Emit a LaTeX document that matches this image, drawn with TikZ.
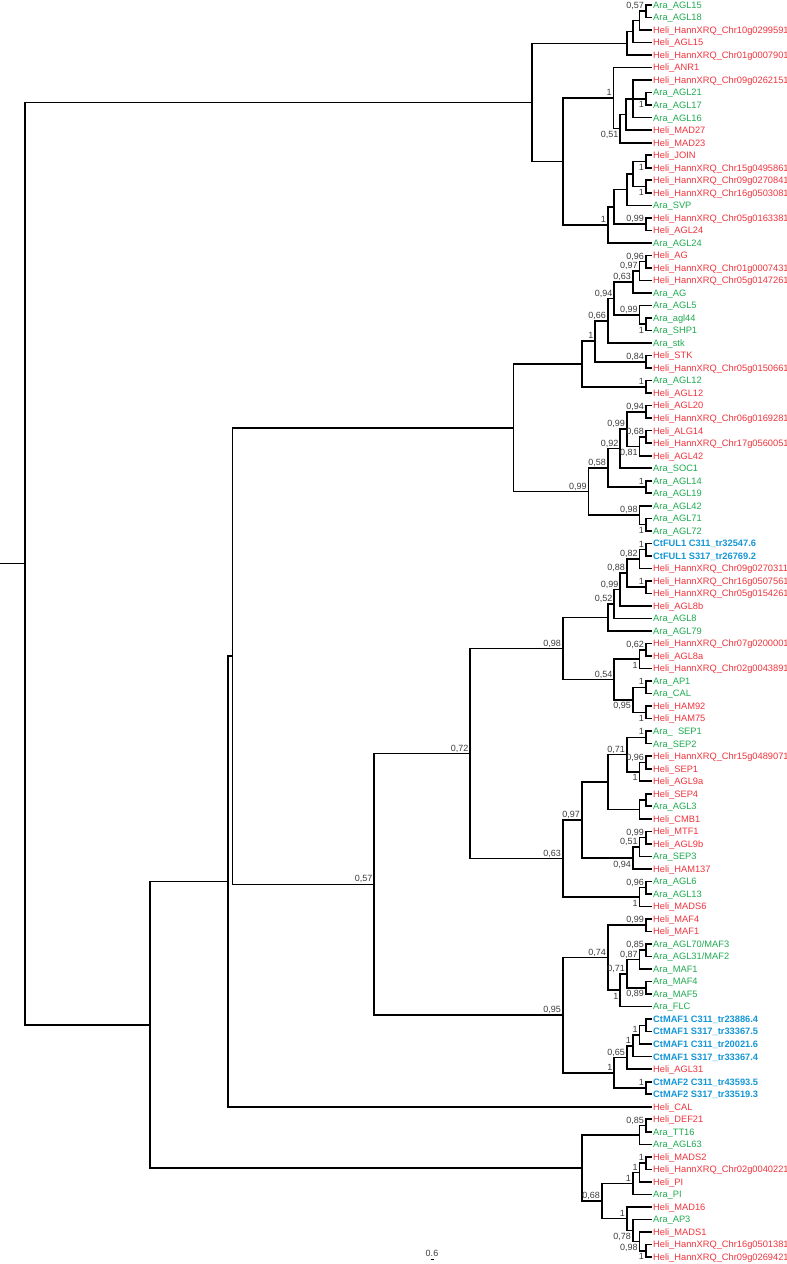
\documentclass[tikz,border=0pt]{standalone}
\usepackage{fontspec}
\setmainfont{Liberation Sans}
\definecolor{aracol}{RGB}{30,170,80}
\definecolor{helicol}{RGB}{240,50,60}
\definecolor{ctcol}{RGB}{20,150,215}
\definecolor{labcol}{RGB}{60,60,60}
\tikzset{
  br/.style={line width=1.6pt, black, line join=miter},
  leaf/.style={anchor=west, inner sep=0pt, font=\fontsize{9.3}{10}\selectfont, text height=6.7pt, text depth=0pt},
  sa/.style={text=aracol},
  sh/.style={text=helicol},
  sc/.style={text=ctcol, font=\fontsize{9.3}{10}\selectfont\bfseries},
  lbl/.style={anchor=east, inner sep=0pt, text=labcol, font=\fontsize{9}{10}\selectfont, text height=6.4pt, text depth=0pt}
}
\newcommand\lf[3]{\coordinate (l#1) at (651.5,#1-1); \node[leaf,#2] (t#1) at (653,#1-1) {#3};}
\newcommand\kids[2]{\foreach \c in {#2} {\draw[br] (#1) |- (\c);}}
\newcommand\nlab[3]{\node[lbl] (lb#1) at ([shift={(-1.5,#2)}]#1) {#3};}
\def\ab{-0.45}
\def\be{0.47}
\begin{document}
\begin{tikzpicture}[x=1pt,y=-12.52pt]
\useasboundingbox (0,-0.3994) rectangle (787,100.56);
% leaves
\lf{1}{sa}{Ara\_AGL15}
\lf{2}{sa}{Ara\_AGL18}
\lf{3}{sh}{Heli\_HannXRQ\_Chr10g0299591}
\lf{4}{sh}{Heli\_AGL15}
\lf{5}{sh}{Heli\_HannXRQ\_Chr01g0007901}
\lf{6}{sh}{Heli\_ANR1}
\lf{7}{sh}{Heli\_HannXRQ\_Chr09g0262151}
\lf{8}{sa}{Ara\_AGL21}
\lf{9}{sa}{Ara\_AGL17}
\lf{10}{sa}{Ara\_AGL16}
\lf{11}{sh}{Heli\_MAD27}
\lf{12}{sh}{Heli\_MAD23}
\lf{13}{sh}{Heli\_JOIN}
\lf{14}{sh}{Heli\_HannXRQ\_Chr15g0495861}
\lf{15}{sh}{Heli\_HannXRQ\_Chr09g0270841}
\lf{16}{sh}{Heli\_HannXRQ\_Chr16g0503081}
\lf{17}{sa}{Ara\_SVP}
\lf{18}{sh}{Heli\_HannXRQ\_Chr05g0163381}
\lf{19}{sh}{Heli\_AGL24}
\lf{20}{sa}{Ara\_AGL24}
\lf{21}{sh}{Heli\_AG}
\lf{22}{sh}{Heli\_HannXRQ\_Chr01g0007431}
\lf{23}{sh}{Heli\_HannXRQ\_Chr05g0147261}
\lf{24}{sa}{Ara\_AG}
\lf{25}{sa}{Ara\_AGL5}
\lf{26}{sa}{Ara\_agl44}
\lf{27}{sa}{Ara\_SHP1}
\lf{28}{sa}{Ara\_stk}
\lf{29}{sh}{Heli\_STK}
\lf{30}{sh}{Heli\_HannXRQ\_Chr05g0150661}
\lf{31}{sa}{Ara\_AGL12}
\lf{32}{sh}{Heli\_AGL12}
\lf{33}{sh}{Heli\_AGL20}
\lf{34}{sh}{Heli\_HannXRQ\_Chr06g0169281}
\lf{35}{sh}{Heli\_ALG14}
\lf{36}{sh}{Heli\_HannXRQ\_Chr17g0560051}
\lf{37}{sh}{Heli\_AGL42}
\lf{38}{sa}{Ara\_SOC1}
\lf{39}{sa}{Ara\_AGL14}
\lf{40}{sa}{Ara\_AGL19}
\lf{41}{sa}{Ara\_AGL42}
\lf{42}{sa}{Ara\_AGL71}
\lf{43}{sa}{Ara\_AGL72}
\lf{44}{sc}{CtFUL1 C311\_tr32547.6}
\lf{45}{sc}{CtFUL1 S317\_tr26769.2}
\lf{46}{sh}{Heli\_HannXRQ\_Chr09g0270311}
\lf{47}{sh}{Heli\_HannXRQ\_Chr16g0507561}
\lf{48}{sh}{Heli\_HannXRQ\_Chr05g0154261}
\lf{49}{sh}{Heli\_AGL8b}
\lf{50}{sa}{Ara\_AGL8}
\lf{51}{sa}{Ara\_AGL79}
\lf{52}{sh}{Heli\_HannXRQ\_Chr07g0200001}
\lf{53}{sh}{Heli\_AGL8a}
\lf{54}{sh}{Heli\_HannXRQ\_Chr02g0043891}
\lf{55}{sa}{Ara\_AP1}
\lf{56}{sa}{Ara\_CAL}
\lf{57}{sh}{Heli\_HAM92}
\lf{58}{sh}{Heli\_HAM75}
\lf{59}{sa}{Ara\_\ \ SEP1}
\lf{60}{sa}{Ara\_SEP2}
\lf{61}{sh}{Heli\_HannXRQ\_Chr15g0489071}
\lf{62}{sh}{Heli\_SEP1}
\lf{63}{sh}{Heli\_AGL9a}
\lf{64}{sh}{Heli\_SEP4}
\lf{65}{sa}{Ara\_AGL3}
\lf{66}{sh}{Heli\_CMB1}
\lf{67}{sh}{Heli\_MTF1}
\lf{68}{sh}{Heli\_AGL9b}
\lf{69}{sa}{Ara\_SEP3}
\lf{70}{sh}{Heli\_HAM137}
\lf{71}{sa}{Ara\_AGL6}
\lf{72}{sa}{Ara\_AGL13}
\lf{73}{sh}{Heli\_MADS6}
\lf{74}{sh}{Heli\_MAF4}
\lf{75}{sh}{Heli\_MAF1}
\lf{76}{sa}{Ara\_AGL70/MAF3}
\lf{77}{sa}{Ara\_AGL31/MAF2}
\lf{78}{sa}{Ara\_MAF1}
\lf{79}{sa}{Ara\_MAF4}
\lf{80}{sa}{Ara\_MAF5}
\lf{81}{sa}{Ara\_FLC}
\lf{82}{sc}{CtMAF1 C311\_tr23886.4}
\lf{83}{sc}{CtMAF1 S317\_tr33367.5}
\lf{84}{sc}{CtMAF1 C311\_tr20021.6}
\lf{85}{sc}{CtMAF1 S317\_tr33367.4}
\lf{86}{sh}{Heli\_AGL31}
\lf{87}{sc}{CtMAF2 C311\_tr43593.5}
\lf{88}{sc}{CtMAF2 S317\_tr33519.3}
\lf{89}{sh}{Heli\_CAL}
\lf{90}{sh}{Heli\_DEF21}
\lf{91}{sa}{Ara\_TT16}
\lf{92}{sa}{Ara\_AGL63}
\lf{93}{sh}{Heli\_MADS2}
\lf{94}{sh}{Heli\_HannXRQ\_Chr02g0040221}
\lf{95}{sh}{Heli\_PI}
\lf{96}{sa}{Ara\_PI}
\lf{97}{sh}{Heli\_MAD16}
\lf{98}{sa}{Ara\_AP3}
\lf{99}{sh}{Heli\_MADS1}
\lf{100}{sh}{Heli\_HannXRQ\_Chr16g0501381}
\lf{101}{sh}{Heli\_HannXRQ\_Chr09g0269421}
% internal nodes
\coordinate (A1) at (645.7,0.5);
\coordinate (A2) at (639.3,1.25);
\coordinate (A3) at (632.7,2.125);
\coordinate (A4) at (626.7,3.0625);
\coordinate (B1) at (645.7,7.5);
\coordinate (B2) at (632.7,7.5);
\coordinate (B3) at (625.7,8.75);
\coordinate (B4) at (620,9.875);
\coordinate (B5) at (613.3,7.4375);
\coordinate (C1) at (645.7,12.5);
\coordinate (C2) at (645.7,14.5);
\coordinate (C3) at (632.7,13.5);
\coordinate (C4) at (626.7,14.75);
\coordinate (C5) at (645.7,17.5);
\coordinate (C6) at (614,16.125);
\coordinate (C7) at (607.7,17.5625);
\coordinate (E) at (562.7,12.5);
\coordinate (F) at (531.7,7.78125);
\coordinate (D1) at (645.7,20.5);
\coordinate (D2) at (639.3,21.25);
\coordinate (D3) at (632.7,22.125);
\coordinate (D4) at (645.7,25.5);
\coordinate (D5) at (639.3,24.75);
\coordinate (D6) at (614,23.4375);
\coordinate (D7) at (607.7,25.21875);
\coordinate (D8) at (645.7,28.5);
\coordinate (D9) at (595,26.859375);
\coordinate (D10) at (645.7,30.5);
\coordinate (D11) at (581.7,28.6797);
\coordinate (G1) at (645.7,32.5);
\coordinate (G2) at (645.7,34.5);
\coordinate (G3) at (639.3,35.25);
\coordinate (G4) at (626.7,33.875);
\coordinate (G5) at (620,35.4375);
\coordinate (G6) at (645.7,38.5);
\coordinate (G7) at (607.7,36.96875);
\coordinate (H1) at (645.7,41.5);
\coordinate (H2) at (639.3,40.75);
\coordinate (G8) at (588.3,38.859375);
\coordinate (I) at (513.3,33.7695);
\coordinate (J1) at (645.7,43.5);
\coordinate (J2) at (639.3,44.25);
\coordinate (J3) at (645.7,46.5);
\coordinate (J4) at (626.7,45.375);
\coordinate (J5) at (620,46.6875);
\coordinate (J6) at (614,47.84375);
\coordinate (J7) at (607.7,48.921875);
\coordinate (K1) at (645.7,51.5);
\coordinate (K2) at (639.3,52.25);
\coordinate (K3) at (645.7,54.5);
\coordinate (K4) at (645.7,56.5);
\coordinate (K5) at (632.7,55.5);
\coordinate (K6) at (614,53.875);
\coordinate (L) at (562.7,51.3984);
\coordinate (M1) at (645.7,58.5);
\coordinate (M2) at (645.7,60.5);
\coordinate (M3) at (639.3,61.25);
\coordinate (M4) at (626.7,59.875);
\coordinate (M5) at (645.7,63.5);
\coordinate (M6) at (639.3,64.25);
\coordinate (M7) at (607.7,62.0625);
\coordinate (M8) at (645.7,66.5);
\coordinate (M9) at (639.3,67.25);
\coordinate (M10) at (632.7,68.125);
\coordinate (M11) at (581.7,65.09375);
\coordinate (N1) at (645.7,70.5);
\coordinate (N2) at (639.3,71.25);
\coordinate (P) at (562.7,68.171875);
\coordinate (Q) at (470,59.785);
\coordinate (R1) at (645.7,73.5);
\coordinate (R2) at (645.7,75.5);
\coordinate (R3) at (639.3,76.25);
\coordinate (R4) at (645.7,78.5);
\coordinate (R5) at (626.7,77.375);
\coordinate (R6) at (620,78.6875);
\coordinate (R7) at (607.7,76.09375);
\coordinate (S1) at (645.7,81.5);
\coordinate (S2) at (639.3,82.25);
\coordinate (S3) at (632.7,83.125);
\coordinate (S4) at (626.7,84.0625);
\coordinate (S5) at (645.7,86.5);
\coordinate (S6) at (614,85.28125);
\coordinate (T) at (562.7,80.6875);
\coordinate (U) at (374,70.236);
\coordinate (Z) at (232.3,52.003);
\coordinate (Y) at (228,70.0015);
\coordinate (V1) at (645.7,89.5);
\coordinate (V2) at (639.3,90.25);
\coordinate (W1) at (645.7,92.5);
\coordinate (W2) at (639.3,93.25);
\coordinate (W3) at (632.7,94.125);
\coordinate (X1) at (645.7,99.5);
\coordinate (X2) at (639.3,98.75);
\coordinate (X3) at (632.7,97.875);
\coordinate (X4) at (626.7,96.9375);
\coordinate (X5) at (601.7,95.53125);
\coordinate (V3) at (581.7,92.890625);
\coordinate (X) at (150,81.446);
\coordinate (root) at (25,44.614);
\coordinate (r0) at (0,44.614);
% branches
\kids{A1}{l1,l2}
\kids{A2}{A1,l3}
\kids{A3}{A2,l4}
\kids{A4}{A3,l5}
\kids{B1}{l8,l9}
\kids{B2}{l7,B1,l10}
\kids{B3}{B2,l11}
\kids{B4}{B3,l12}
\kids{B5}{l6,B4}
\kids{C1}{l13,l14}
\kids{C2}{l15,l16}
\kids{C3}{C1,C2}
\kids{C4}{C3,l17}
\kids{C5}{l18,l19}
\kids{C6}{C4,C5}
\kids{C7}{C6,l20}
\kids{E}{B5,C7}
\kids{F}{A4,E}
\kids{D1}{l21,l22}
\kids{D2}{D1,l23}
\kids{D3}{D2,l24}
\kids{D4}{l26,l27}
\kids{D5}{l25,D4}
\kids{D6}{D3,D5}
\kids{D7}{D6,l28}
\kids{D8}{l29,l30}
\kids{D9}{D7,D8}
\kids{D10}{l31,l32}
\kids{D11}{D9,D10}
\kids{G1}{l33,l34}
\kids{G2}{l35,l36}
\kids{G3}{G2,l37}
\kids{G4}{G1,G3}
\kids{G5}{G4,l38}
\kids{G6}{l39,l40}
\kids{G7}{G5,G6}
\kids{H1}{l42,l43}
\kids{H2}{l41,H1}
\kids{G8}{G7,H2}
\kids{I}{D11,G8}
\kids{J1}{l44,l45}
\kids{J2}{J1,l46}
\kids{J3}{l47,l48}
\kids{J4}{J2,J3}
\kids{J5}{J4,l49}
\kids{J6}{J5,l50}
\kids{J7}{J6,l51}
\kids{K1}{l52,l53}
\kids{K2}{K1,l54}
\kids{K3}{l55,l56}
\kids{K4}{l57,l58}
\kids{K5}{K3,K4}
\kids{K6}{K2,K5}
\kids{L}{J7,K6}
\kids{M1}{l59,l60}
\kids{M2}{l61,l62}
\kids{M3}{M2,l63}
\kids{M4}{M1,M3}
\kids{M5}{l64,l65}
\kids{M6}{M5,l66}
\kids{M7}{M4,M6}
\kids{M8}{l67,l68}
\kids{M9}{M8,l69}
\kids{M10}{M9,l70}
\kids{M11}{M7,M10}
\kids{N1}{l71,l72}
\kids{N2}{N1,l73}
\kids{P}{M11,N2}
\kids{Q}{L,P}
\kids{R1}{l74,l75}
\kids{R2}{l76,l77}
\kids{R3}{R2,l78}
\kids{R4}{l79,l80}
\kids{R5}{R3,R4}
\kids{R6}{R5,l81}
\kids{R7}{R1,R6}
\kids{S1}{l82,l83}
\kids{S2}{S1,l84}
\kids{S3}{S2,l85}
\kids{S4}{S3,l86}
\kids{S5}{l87,l88}
\kids{S6}{S4,S5}
\kids{T}{R7,S6}
\kids{U}{Q,T}
\kids{Z}{I,U}
\kids{Y}{Z,l89}
\kids{V1}{l90,l91}
\kids{V2}{V1,l92}
\kids{W1}{l93,l94}
\kids{W2}{W1,l95}
\kids{W3}{W2,l96}
\kids{X1}{l100,l101}
\kids{X2}{l99,X1}
\kids{X3}{l98,X2}
\kids{X4}{l97,X3}
\kids{X5}{W3,X4}
\kids{V3}{V2,X5}
\kids{X}{Y,V3}
\kids{root}{F,X}
\draw[br] (r0) -- (root);
% support labels
\nlab{A1}{\ab}{0,57}
\nlab{B1}{\be}{1}
\nlab{B4}{\be}{0,51}
\nlab{B5}{\ab}{1}
\nlab{C1}{\be}{1}
\nlab{C2}{\be}{1}
\nlab{C5}{\ab}{0,99}
\nlab{C7}{\ab}{1}
\nlab{D1}{\ab}{0,96}
\nlab{D2}{\ab}{0,97}
\nlab{D3}{\ab}{0,63}
\nlab{D4}{\be}{1}
\nlab{D5}{\ab}{0,99}
\nlab{D6}{\ab}{0,94}
\nlab{D7}{\ab}{0,66}
\nlab{D8}{\ab}{0,84}
\nlab{D9}{\ab}{1}
\nlab{D10}{\ab}{1}
\nlab{G1}{\ab}{0,94}
\nlab{G2}{\ab}{0,68}
\nlab{G3}{\be}{0,81}
\nlab{G4}{\ab}{0,99}
\nlab{G5}{\ab}{0,92}
\nlab{G6}{\ab}{1}
\nlab{G7}{\ab}{0,58}
\nlab{H1}{\be}{1}
\nlab{H2}{\ab}{0,98}
\nlab{G8}{\ab}{0,99}
\nlab{J1}{\ab}{1}
\nlab{J2}{\ab}{0,82}
\nlab{J3}{\ab}{1}
\nlab{J4}{\ab}{0,88}
\nlab{J5}{\ab}{0,99}
\nlab{J6}{\ab}{0,52}
\nlab{K1}{\ab}{0,62}
\nlab{K2}{\be}{1}
\nlab{K3}{\ab}{1}
\nlab{K4}{\be}{1}
\nlab{K5}{\be}{0,95}
\nlab{K6}{\ab}{0,54}
\nlab{L}{\ab}{0,98}
\nlab{M1}{\ab}{1}
\nlab{M2}{\ab}{0,96}
\nlab{M3}{\be}{1}
\nlab{M4}{\ab}{0,71}
\nlab{M8}{\ab}{0,99}
\nlab{M9}{\ab}{0,51}
\nlab{M10}{\be}{0,94}
\nlab{M11}{\ab}{0,97}
\nlab{N1}{\ab}{0,96}
\nlab{N2}{\be}{1}
\nlab{P}{\ab}{0,63}
\nlab{Q}{\ab}{0,72}
\nlab{U}{\ab}{0,57}
\nlab{R1}{\ab}{0,99}
\nlab{R2}{\ab}{0,85}
\nlab{R3}{\ab}{0,87}
\nlab{R4}{\be}{0,89}
\nlab{R5}{\ab}{0,71}
\nlab{R6}{\be}{1}
\nlab{R7}{\ab}{0,74}
\nlab{T}{\ab}{0,95}
\nlab{S2}{\ab}{1}
\nlab{S3}{\ab}{1}
\nlab{S4}{\ab}{0,65}
\nlab{S5}{\ab}{1}
\nlab{S6}{\ab}{1}
\nlab{V1}{\ab}{0,85}
\nlab{W1}{\ab}{1}
\nlab{W2}{\ab}{1}
\nlab{W3}{\ab}{1}
\nlab{X1}{\be}{1}
\nlab{X2}{\be}{0,98}
\nlab{X3}{\be}{0,78}
\nlab{X4}{\ab}{1}
\nlab{X5}{\ab}{0,68}
% scale bar
\coordinate (sbL) at (430.5,100.22);
\coordinate (sbR) at (433.5,100.22);
\draw[line width=1pt] (sbL) -- (sbR);
\node[lbl, anchor=center] (sbt) at (432,99.68) {0.6};
\end{tikzpicture}
\end{document}
